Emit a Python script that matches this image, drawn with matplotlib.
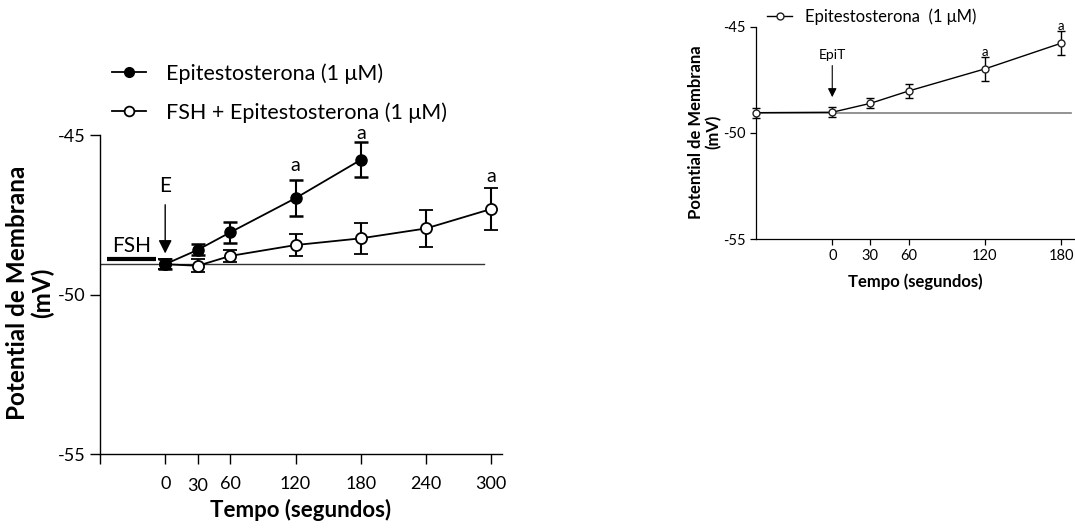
import matplotlib
matplotlib.use("Agg")
import matplotlib.pyplot as plt
from matplotlib.lines import Line2D
from matplotlib.transforms import ScaledTranslation

plt.rcParams['font.family'] = ['Lato', 'DejaVu Sans']
plt.rcParams['axes.unicode_minus'] = False

# ---- Left panel data ----
time_epi = [0, 30, 60, 120, 180]
epi_mean = [-49.05, -48.60, -48.05, -46.98, -45.78]
epi_err = [0.15, 0.17, 0.32, 0.57, 0.55]

time_fsh = [0, 30, 60, 120, 180, 240, 300]
fsh_mean = [-49.05, -49.10, -48.79, -48.45, -48.24, -47.93, -47.32]
fsh_err = [0.15, 0.20, 0.20, 0.35, 0.49, 0.57, 0.66]

left_xticks = [-60, 0, 30, 60, 120, 180, 240, 300]
left_xticklabels = ['', '0', '30', '60', '120', '180', '240', '300']
left_yticks = [-55, -50, -45]
baseline_left = -49.05
sig_left_x = [120, 180, 300]
sig_left_y = [-45.97, -44.94, -46.3]

# ---- Right panel data ----
time_r = [-60, 0, 30, 60, 120, 180]
r_mean = [-49.05, -49.03, -48.61, -48.03, -46.99, -45.78]
r_err = [0.24, 0.23, 0.23, 0.33, 0.58, 0.56]
right_xticks = [0, 30, 60, 120, 180]
right_yticks = [-55, -50, -45]
baseline_right = -49.05
sig_right_x = [120, 180]
sig_right_y = [-46.19, -44.97]

W, H = 1075, 531
fig = plt.figure(figsize=(W/100, H/100), dpi=100)

# ================= Left panel =================
ax = fig.add_axes([100/W, 1-454/H, 402/W, 319/H])
ax.set_xlim(-60, 310)
ax.set_ylim(-55, -45)
for s in ['top', 'right']:
    ax.spines[s].set_visible(False)
for s in ['left', 'bottom']:
    ax.spines[s].set_linewidth(1.0)

ax.plot([-60, 293], [baseline_left]*2, color='#333333', lw=1.0, zorder=1)
ax.errorbar(time_fsh, fsh_mean, yerr=fsh_err, color='black', lw=1.3,
            marker='o', ms=8, mfc='white', mec='black', mew=1.3,
            capsize=5, capthick=1.8, elinewidth=1.5, zorder=3)
ax.errorbar(time_epi, epi_mean, yerr=epi_err, color='black', lw=1.3,
            marker='o', ms=8, mfc='black', mec='black',
            capsize=5, capthick=1.8, elinewidth=1.5, zorder=4)

# FSH bar and label
ax.plot([-54, -8], [-48.9, -48.9], color='black', lw=3, solid_capstyle='butt', clip_on=False)
ax.text(-31, -48.78, 'FSH', ha='center', va='bottom', fontsize=15)
# arrow E
ax.annotate('', xy=(0, -48.8), xytext=(0, -47.1),
            arrowprops=dict(arrowstyle='-|>', color='black', lw=1.0, mutation_scale=20))
ax.text(0, -46.6, 'E', ha='center', va='center', fontsize=15)

for xs, ys in zip(sig_left_x, sig_left_y):
    ax.text(xs, ys, 'a', ha='center', va='center', fontsize=14, clip_on=False)

ax.set_xticks(left_xticks)
ax.set_xticklabels(left_xticklabels)
ax.set_yticks(left_yticks)
ax.tick_params(axis='both', direction='out', length=7, width=1.0, labelsize=13)
ax.tick_params(axis='x', pad=9)
for lab in ax.get_xticklabels():
    if lab.get_text() == '30':
        lab.set_transform(lab.get_transform() + ScaledTranslation(0, -2/100, fig.dpi_scale_trans))

fig.text(301/W, 1-510/H, 'Tempo (segundos)', fontsize=16, fontweight='bold',
         ha='center', va='center')
fig.text(30/W, 1-293/H, 'Potential de Membrana\n(mV)', fontsize=17.5, fontweight='bold',
         ha='center', va='center', rotation=90, linespacing=1.05, multialignment='center')

h_epi = Line2D([], [], color='black', lw=1.3, marker='o', ms=7, mfc='black', mec='black')
h_fsh = Line2D([], [], color='black', lw=1.3, marker='o', ms=7, mfc='white', mec='black', mew=1.3)
fig.legend([h_epi, h_fsh], ['Epitestosterona (1 \u03bcM)', 'FSH + Epitestosterona (1 \u03bcM)'],
           loc='center left', bbox_to_anchor=(112/W, 1-93/H),
           frameon=False, fontsize=15.5, handlelength=1.6, labelspacing=0.85,
           handletextpad=0.9, borderaxespad=0, borderpad=0)

# ================= Right panel =================
ax2 = fig.add_axes([756/W, 1-239/H, 319/W, 212.3/H])
ax2.set_xlim(-60, 191)
ax2.set_ylim(-55, -45)
for s in ['top', 'right']:
    ax2.spines[s].set_visible(False)
for s in ['left', 'bottom']:
    ax2.spines[s].set_linewidth(0.9)

ax2.plot([-60, 188], [baseline_right]*2, color='#808080', lw=1.2, zorder=1)
ax2.errorbar(time_r, r_mean, yerr=r_err, color='black', lw=1.0,
             marker='o', ms=5, mfc='white', mec='#222222', mew=1.0,
             capsize=3, capthick=1.2, elinewidth=1.0, zorder=3, clip_on=False)
ax2.annotate('', xy=(0, -48.45), xytext=(0, -46.7),
             arrowprops=dict(arrowstyle='-|>', color='black', lw=0.8, mutation_scale=13))
ax2.text(0, -46.33, 'EpiT', ha='center', va='center', fontsize=10)
for xs, ys in zip(sig_right_x, sig_right_y):
    ax2.text(xs, ys, 'a', ha='center', va='center', fontsize=9.5, clip_on=False)

ax2.set_xticks(right_xticks)
ax2.set_yticks(right_yticks)
ax2.tick_params(axis='both', direction='out', length=4, width=0.9, labelsize=10.5)
fig.text(915/W, 1-282/H, 'Tempo (segundos)', fontsize=12, fontweight='bold',
         ha='center', va='center')
fig.text(705/W, 1-132/H, 'Potential de Membrana\n(mV)', fontsize=12, fontweight='bold',
         ha='center', va='center', rotation=90, linespacing=1.1, multialignment='center')
h_r = Line2D([], [], color='black', lw=1.0, marker='o', ms=5, mfc='white', mec='#222222')
fig.legend([h_r], ['Epitestosterona  (1 \u03bcM)'], loc='center left',
           bbox_to_anchor=(767/W, 1-17/H), frameon=False, fontsize=12,
           handlelength=1.5, handletextpad=0.8, borderaxespad=0, borderpad=0)

fig.savefig('out.png', dpi=100)
